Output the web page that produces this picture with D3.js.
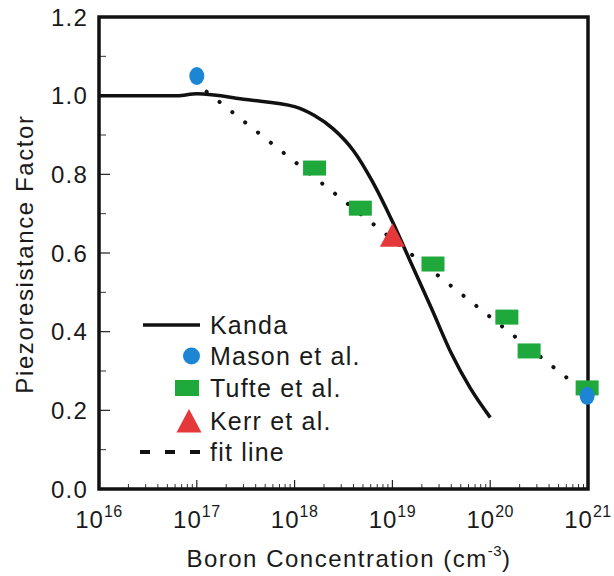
<!DOCTYPE html>
<html><head><meta charset="utf-8">
<script src="https://cdn.jsdelivr.net/npm/d3@7"></script>
<style>
body{margin:0;background:#fff;}
text{font-family:"Liberation Sans",Arial,sans-serif;fill:#1a1a1a;}
</style></head>
<body><svg id="c" width="614" height="576"></svg>
<script>
// ---- data ----
const kandaX = [1e16, 3.2e16, 6.3e16, 1e17, 3.2e17, 1e18, 1.58e18, 2.5e18, 4e18, 6.3e18, 1e19, 1.58e19, 2.5e19, 4e19, 6.3e19, 1e20];
const kandaY = [1.0, 1.0, 1.0, 1.005, 0.99, 0.972, 0.95, 0.915, 0.86, 0.78, 0.68, 0.57, 0.46, 0.345, 0.255, 0.182];
const masonX = [1e17, 9.8e20];
const masonY = [1.05, 0.237];
const tufteX = [1.6e18, 4.7e18, 2.6e19, 1.48e20, 2.5e20, 9.8e20];
const tufteY = [0.816, 0.714, 0.572, 0.437, 0.351, 0.257];
const kerrX = [1e19];
const kerrY = [0.645];
const fitX = [1.26e17, 9.55e20];
const fitY = [1.01, 0.244];
const xTickExp = [16, 17, 18, 19, 20, 21];
const yTicks = [0.0, 0.2, 0.4, 0.6, 0.8, 1.0, 1.2];
const legendLabels = ["Kanda", "Mason et al.", "Tufte et al.", "Kerr et al.", "fit line"];

const BLUE = "#1c86d4", GREEN = "#1fa83b", RED = "#e5383b";

const svg = d3.select("#c");
const x = d3.scaleLog().domain([1e16, 1e21]).range([99, 588]);
const y = d3.scaleLinear().domain([0, 1.2]).range([489, 17]);

// ticks (inward)
const g = svg.append("g");
const minorY = d3.range(0.1, 1.2, 0.2);
g.selectAll(".ymaj").data(yTicks).enter().append("line")
  .attr("x1", x.range()[0]).attr("x2", x.range()[0] + 11)
  .attr("y1", d => y(d)).attr("y2", d => y(d)).attr("stroke", "#222").attr("stroke-width", 1.2);
g.selectAll(".ymin").data(minorY).enter().append("line")
  .attr("x1", x.range()[0]).attr("x2", x.range()[0] + 7)
  .attr("y1", d => y(d)).attr("y2", d => y(d)).attr("stroke", "#333").attr("stroke-width", 1);
const minorX = [];
for (let e = 16; e < 21; e++) for (let m = 2; m <= 9; m++) minorX.push(m * Math.pow(10, e));
g.selectAll(".xmin").data(minorX).enter().append("line")
  .attr("x1", d => x(d)).attr("x2", d => x(d))
  .attr("y1", y(0)).attr("y2", y(0) - 5).attr("stroke", "#333").attr("stroke-width", 1);
g.selectAll(".xmaj").data(xTickExp).enter().append("line")
  .attr("x1", d => x(Math.pow(10, d))).attr("x2", d => x(Math.pow(10, d)))
  .attr("y1", y(0)).attr("y2", y(0) - 9).attr("stroke", "#222").attr("stroke-width", 1.2);

// frame
svg.append("rect").attr("x", x.range()[0]).attr("y", y(1.2))
  .attr("width", x.range()[1] - x.range()[0]).attr("height", y(0) - y(1.2))
  .attr("fill", "none").attr("stroke", "#111").attr("stroke-width", 3.5);

// y tick labels
svg.selectAll(".ylab").data(yTicks).enter().append("text")
  .attr("x", 88).attr("y", d => y(d) + 8.5).attr("text-anchor", "end")
  .attr("font-size", 24).attr("letter-spacing", 1.2)
  .text(d => d.toFixed(1));

// x tick labels
const xl = svg.selectAll(".xlab").data(xTickExp).enter().append("text")
  .attr("x", d => x(Math.pow(10, d))).attr("y", 528).attr("text-anchor", "middle")
  .attr("font-size", 24).attr("letter-spacing", 1);
xl.append("tspan").text("10");
xl.append("tspan").attr("font-size", 16).attr("dy", -11).attr("letter-spacing", 0.5).text(d => d);

// axis titles
const xt = svg.append("text").attr("x", 349).attr("y", 567).attr("text-anchor", "middle")
  .attr("font-size", 24).attr("letter-spacing", 1.5);
xt.append("tspan").text("Boron Concentration (cm");
xt.append("tspan").attr("font-size", 15).attr("dy", -11).attr("letter-spacing", 0.5).text("-3");
xt.append("tspan").attr("dy", 11).text(")");

svg.append("text").attr("transform", "translate(33,254) rotate(-90)")
  .attr("text-anchor", "middle").attr("font-size", 24).attr("letter-spacing", 1.6)
  .text("Piezoresistance Factor");

// Kanda curve
const kanda = kandaX.map((v, i) => [v, kandaY[i]]);
svg.append("path").datum(kanda)
  .attr("d", d3.line().x(d => x(d[0])).y(d => y(d[1])).curve(d3.curveMonotoneX))
  .attr("fill", "none").attr("stroke", "#111").attr("stroke-width", 3.5).attr("stroke-linejoin", "round");

// fit line (dotted)
const fit = fitX.map((v, i) => [v, fitY[i]]);
svg.append("path").datum(fit)
  .attr("d", d3.line().x(d => x(d[0])).y(d => y(d[1])))
  .attr("fill", "none").attr("stroke", "#111").attr("stroke-width", 4)
  .attr("stroke-linecap", "round").attr("stroke-dasharray", "0.1,16.3");

// markers
const tri = (cx, cy) => `M${cx},${cy - 12}L${cx + 12.5},${cy + 11.5}L${cx - 12.5},${cy + 11.5}Z`;
svg.selectAll(".tufte").data(tufteX.map((v, i) => [v, tufteY[i]])).enter().append("rect")
  .attr("x", d => x(d[0]) - 11.5).attr("y", d => y(d[1]) - 7.5)
  .attr("width", 23).attr("height", 15).attr("fill", GREEN);
svg.selectAll(".kerr").data(kerrX.map((v, i) => [v, kerrY[i]])).enter().append("path")
  .attr("d", d => tri(x(d[0]), y(d[1]))).attr("fill", RED);
svg.selectAll(".mason").data(masonX.map((v, i) => [v, masonY[i]])).enter().append("ellipse")
  .attr("cx", d => x(d[0])).attr("cy", d => y(d[1])).attr("rx", 7.5).attr("ry", 9).attr("fill", BLUE);

// legend
const lg = svg.append("g");
const rowY = [325, 356, 388, 421, 452];
lg.append("line").attr("x1", 143).attr("x2", 200).attr("y1", rowY[0]).attr("y2", rowY[0])
  .attr("stroke", "#111").attr("stroke-width", 3.5);
lg.append("ellipse").attr("cx", 191.5).attr("cy", rowY[1]).attr("rx", 8.5).attr("ry", 8.5).attr("fill", BLUE);
lg.append("rect").attr("x", 175).attr("y", rowY[2] - 8).attr("width", 24).attr("height", 16).attr("fill", GREEN);
lg.append("path").attr("d", tri(189, rowY[3])).attr("fill", RED);
lg.append("line").attr("x1", 140).attr("x2", 200).attr("y1", rowY[4]).attr("y2", rowY[4])
  .attr("stroke", "#111").attr("stroke-width", 4).attr("stroke-dasharray", "10,15");
lg.selectAll(".lt").data(legendLabels).enter().append("text")
  .attr("x", 210).attr("y", (d, i) => rowY[i] + 9).attr("font-size", 25).attr("letter-spacing", 1.2)
  .text(d => d);
</script></body></html>
